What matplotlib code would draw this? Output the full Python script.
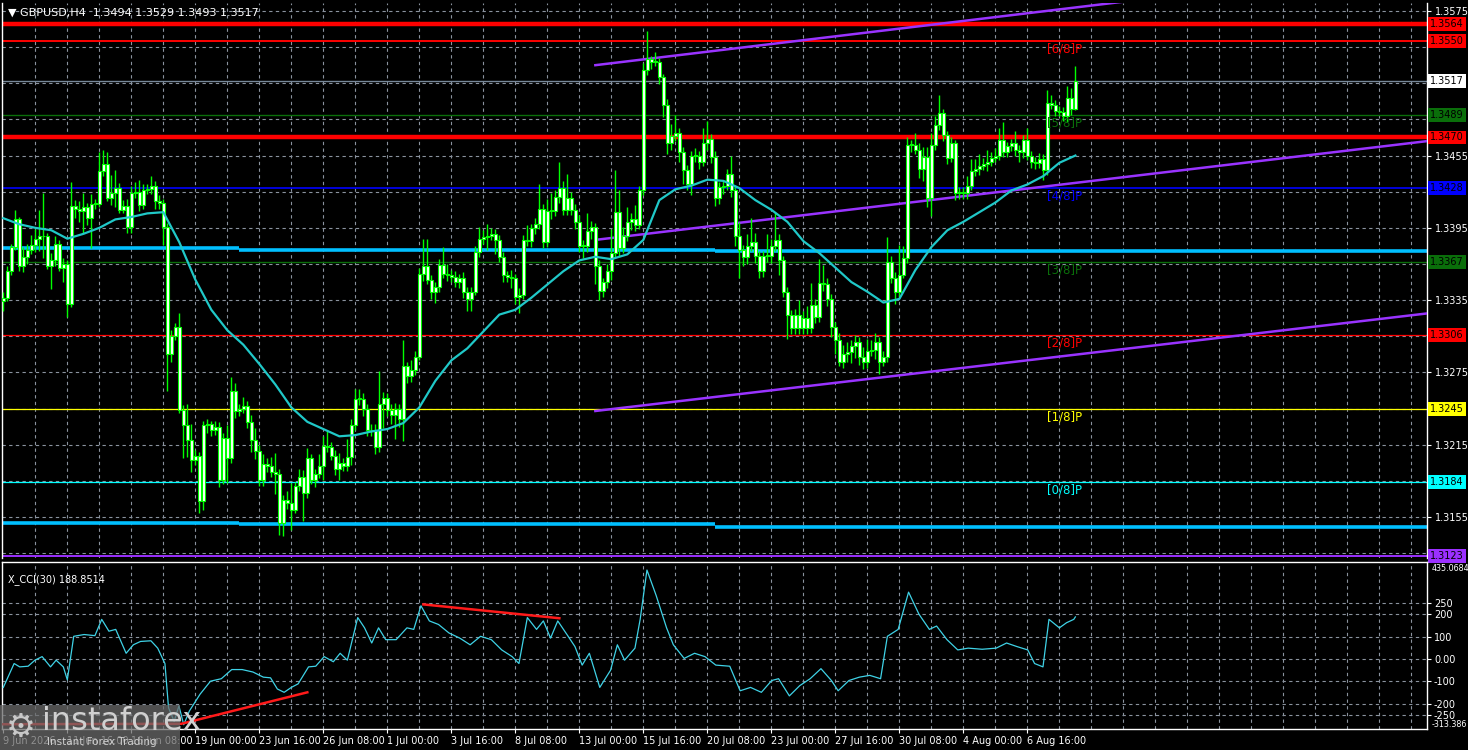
import matplotlib
matplotlib.use("Agg")
import matplotlib.pyplot as plt
from matplotlib.patches import Rectangle
import numpy as np

plt.rcParams['font.family'] = ['DejaVu Sans']

# GBPUSD H4 candles, prices in pips above 1.3000
first_open = 334
close_pips = [
    337, 359, 379, 402, 363, 371, 377, 381, 386, 388,
    388, 363, 368, 382, 362, 365, 332, 413, 411, 409,
    412, 403, 415, 415, 442, 448, 420, 424, 428, 410,
    413, 396, 424, 425, 414, 426, 427, 430, 417, 416,
    396, 290, 305, 313, 244, 231, 219, 202, 206, 168,
    231, 232, 227, 230, 186, 221, 204, 260, 243, 245,
    247, 234, 219, 210, 186, 199, 197, 192, 191, 150,
    169, 167, 161, 181, 188, 175, 204, 186, 191, 197,
    214, 213, 206, 195, 200, 197, 205, 231, 253, 253,
    245, 227, 227, 213, 249, 254, 244, 240, 245, 236,
    280, 272, 277, 288, 357, 363, 352, 342, 346, 364,
    357, 356, 354, 350, 353, 342, 336, 342, 375, 386,
    387, 388, 390, 385, 371, 356, 354, 353, 338, 339,
    385, 384, 395, 398, 411, 383, 409, 409, 421, 428,
    410, 420, 410, 400, 380, 380, 392, 396, 363, 343,
    350, 359, 374, 408, 378, 388, 400, 402, 397, 426,
    526, 535, 533, 533, 520, 497, 465, 471, 474, 458,
    443, 431, 455, 455, 450, 465, 469, 454, 420, 429,
    430, 440, 426, 388, 377, 371, 380, 383, 372, 359,
    372, 372, 380, 385, 368, 342, 323, 312, 323, 312,
    320, 312, 331, 321, 349, 348, 336, 313, 302, 284,
    290, 292, 297, 300, 288, 284, 293, 294, 300, 284,
    288, 367, 353, 342, 356, 370, 464, 464, 460, 444,
    454, 420, 464, 480, 490, 472, 453, 465, 424, 425,
    424, 430, 442, 444, 446, 448, 450, 453, 455, 468,
    458, 463, 465, 460, 458, 468, 455, 450, 449, 452,
    443, 499, 497, 492, 491, 488, 503, 494, 517,
]
up_wick = [
    5, 4, 3, 8, 2, 8, 5, 8, 8, 22,
    36, 3, 6, 6, 3, 5, 3, 20, 5, 6,
    12, 4, 8, 4, 16, 12, 10, 15, 15, 4,
    5, 6, 6, 8, 10, 5, 4, 8, 4, 5,
    3, 3, 5, 3, 11, 4, 18, 13, 5, 3,
    4, 4, 3, 5, 4, 4, 10, 11, 6, 4,
    8, 4, 6, 10, 5, 8, 5, 8, 16, 4,
    4, 8, 16, 3, 7, 6, 8, 3, 4, 10,
    8, 13, 4, 5, 8, 4, 15, 5, 8, 8,
    5, 4, 5, 5, 27, 5, 4, 5, 5, 4,
    22, 4, 8, 5, 5, 23, 23, 4, 4, 5,
    15, 8, 4, 5, 4, 5, 4, 4, 5, 10,
    6, 10, 5, 4, 4, 4, 3, 6, 4, 6,
    4, 12, 3, 5, 20, 4, 10, 15, 5, 22,
    6, 20, 5, 5, 6, 5, 15, 5, 3, 5,
    3, 6, 20, 35, 18, 8, 12, 5, 12, 4,
    6, 23, 3, 8, 3, 3, 5, 10, 15, 4,
    4, 4, 4, 6, 4, 13, 15, 4, 5, 4,
    5, 4, 15, 4, 12, 4, 10, 20, 8, 4,
    4, 18, 6, 23, 5, 4, 4, 4, 5, 12,
    6, 10, 18, 5, 20, 15, 5, 4, 4, 6,
    8, 8, 5, 6, 4, 8, 10, 8, 8, 4,
    5, 20, 5, 5, 25, 10, 6, 4, 10, 5,
    8, 8, 10, 8, 15, 4, 3, 5, 3, 4,
    4, 8, 10, 8, 10, 5, 10, 5, 6, 10,
    15, 3, 4, 10, 4, 4, 10, 4, 4, 5,
    4, 10, 6, 4, 4, 4, 10, 8, 12,
]
dn_wick = [
    8, 3, 3, 2, 4, 5, 6, 4, 6, 10,
    18, 2, 19, 5, 3, 12, 11, 3, 8, 9,
    18, 6, 25, 4, 3, 4, 3, 6, 12, 3,
    3, 5, 5, 4, 5, 3, 3, 4, 6, 5,
    15, 30, 6, 3, 3, 27, 14, 10, 4, 10,
    7, 6, 5, 4, 6, 4, 21, 4, 6, 4,
    4, 5, 10, 7, 5, 5, 5, 4, 17, 10,
    11, 5, 17, 3, 4, 23, 4, 4, 6, 4,
    11, 4, 4, 5, 9, 4, 4, 7, 4, 5,
    6, 5, 5, 6, 4, 20, 5, 8, 20, 6,
    18, 6, 5, 4, 3, 6, 4, 6, 9, 4,
    4, 5, 4, 4, 5, 5, 10, 10, 3, 4,
    4, 10, 3, 12, 4, 6, 4, 8, 6, 14,
    3, 4, 5, 5, 4, 5, 4, 7, 4, 5,
    4, 4, 4, 6, 5, 10, 5, 6, 15, 8,
    5, 5, 7, 3, 6, 4, 4, 7, 5, 3,
    4, 4, 6, 4, 6, 10, 9, 5, 4, 8,
    12, 5, 9, 5, 6, 4, 5, 5, 7, 5,
    6, 4, 5, 8, 24, 8, 6, 4, 6, 6,
    5, 5, 6, 4, 12, 4, 20, 5, 5, 5,
    5, 5, 4, 5, 4, 5, 6, 9, 12, 4,
    5, 6, 9, 10, 7, 6, 5, 4, 8, 10,
    4, 4, 4, 10, 4, 3, 4, 6, 4, 8,
    10, 8, 15, 4, 4, 5, 5, 3, 6, 5,
    5, 5, 4, 4, 5, 3, 6, 4, 3, 4,
    4, 4, 4, 5, 8, 5, 4, 5, 5, 4,
    8, 4, 3, 4, 3, 4, 5, 5, 1,
]

# moving average read every 4 bars (pips above 1.3000)
ma_bar = list(range(0, 269, 4))
ma_pips = [
    403, 398, 395, 393, 386, 390, 395, 402, 404, 407,
    408, 383, 352, 327, 310, 298, 282, 265, 246, 234,
    228, 222, 223, 226, 228, 233, 246, 268, 285, 295,
    309, 323, 327, 337, 348, 359, 368, 371, 369, 373,
    385, 418, 427, 430, 435, 434, 428, 418, 410, 400,
    384, 374, 362, 350, 342, 333, 336, 360, 379, 393,
    400, 408, 416, 426, 431, 438, 449, 455,
]

# CCI(30)
cci_bar = [
    0, 2.7, 4.1, 6.2, 7.9, 9.7, 11.8, 13.2, 15.0, 16.0,
    17.6, 20.2, 22.9, 24.6, 26.4, 28.1, 30.7, 32.5, 34.3, 36.9,
    38.6, 40.4, 41.3, 42.7, 43.9, 45.1, 46.5, 49.2, 51.8, 54.5,
    57.1, 59.7, 62.4, 65.0, 66.8, 68.5, 70.2, 72.0, 73.7, 75.0,
    76.3, 78.1, 80.2, 82.5, 84.2, 86.0, 88.6, 90.3, 92.1, 93.8,
    95.6, 98.2, 100.9, 102.6, 104.4, 106.5, 108.8, 111.4, 114.1, 116.7,
    119.3, 122.0, 124.6, 127.2, 128.9, 131.0, 133.3, 135.0, 136.8, 138.6,
    141.2, 142.9, 144.7, 146.5, 149.1, 151.8, 153.5, 155.3, 157.9, 159.2,
    160.9, 163.2, 165.8, 167.5, 170.2, 172.8, 175.4, 178.1, 181.6, 184.2,
    186.8, 189.5, 192.1, 193.8, 196.5, 199.1, 201.7, 204.4, 207.0, 208.7,
    211.4, 214.0, 216.6, 219.3, 221.0, 223.7, 226.3, 228.9, 231.5, 233.3,
    235.9, 238.6, 241.2, 244.7, 248.2, 250.8, 253.4, 256.1, 257.8, 259.9,
    261.4, 264.0, 265.8, 267.6, 268.0,
]
cci_val = [
    -127, -20, -35, -32, -5, 11, -35, -5, -35, -93,
    102, 110, 105, 178, 125, 133, 26, 64, 79, 82,
    49, -20, -218, -279, -210, -294, -233, -157, -99, -88,
    -47, -47, -58, -81, -84, -134, -149, -127, -111, -73,
    -35, -32, 11, -12, 26, -5, 186, 140, 72, 140,
    87, 87, 140, 133, 239, 171, 155, 117, 94, 64,
    102, 87, 41, 11, -20, 186, 133, 171, 94, 171,
    102, 56, -27, 26, -127, -50, 64, -5, 49, 178,
    399, 285, 140, 64, 3, 26, 11, -27, -32, -142,
    -127, -149, -96, -88, -165, -119, -88, -43, -96, -142,
    -96, -81, -73, -88, 102, 133, 300, 201, 133, 148,
    87, 41, 49, 44, 49, 72, 56, 41, -20, -35,
    178, 140, 163, 178, 189,
]

date_labels = ["9 Jun 2026", "11 Jun 16:00", "16 Jun 08:00", "19 Jun 00:00",
               "23 Jun 16:00", "26 Jun 08:00", "1 Jul 00:00", "3 Jul 16:00",
               "8 Jul 08:00", "13 Jul 00:00", "15 Jul 16:00", "20 Jul 08:00",
               "23 Jul 00:00", "27 Jul 16:00", "30 Jul 08:00", "4 Aug 00:00",
               "6 Aug 16:00"]
grid_prices = [1.3125, 1.3155, 1.3185, 1.3215, 1.3245, 1.3275, 1.3305, 1.3335,
               1.3365, 1.3395, 1.3425, 1.3455, 1.3485, 1.3515, 1.3545, 1.3575]
price_ticks = [1.3155, 1.3215, 1.3275, 1.3335, 1.3395, 1.3455, 1.3575]
cci_ticks = [250, 200, 100, 0, -100, -200, -250]
cci_tick_labels = ["250", "200", "100", "0.00", "-100", "-200", "-250"]
cci_max, cci_min = 435.0684, -313.386

levels = [1.3564, 1.3550, 1.3517, 1.3489, 1.3470, 1.3428, 1.3367, 1.3306,
          1.3245, 1.3184, 1.3123]
murray_names = ["[6/8]P", "[5/8]P", "[4/8]P", "[3/8]P", "[2/8]P", "[1/8]P", "[0/8]P"]
murray_levels = [1.3550, 1.3489, 1.3428, 1.3367, 1.3306, 1.3245, 1.3184]

sky_bars = [0, 59, 178, 356]
sky_upper = [1.3378, 1.3377, 1.3376]
sky_lower = [1.3150, 1.3149, 1.3147]

chan_bars = [148, 356]
chan_top = [1.3530, 1.3613]
chan_mid = [1.3385, 1.3467]
chan_bot = [1.3243, 1.3324]

red1_bars = [0, 44.5, 76]
red1_vals = [-292, -290, -149]
red2_bars = [105, 139]
red2_vals = [245, 183]

# ---------------------------------------------------------------
W, H = 1468, 750
fig = plt.figure(figsize=(W / 100, H / 100), dpi=100, facecolor="black")
ax = fig.add_axes([2 / W, 1 - 558 / H, 1425 / W, 555 / H], facecolor="black")
ax2 = fig.add_axes([2 / W, 1 - 729 / H, 1425 / W, 167 / H], facecolor="black")

grid_kw = dict(color="#8a929e", lw=0.8, ls=(0, (3, 3)))
xlim = (-0.33, 355.9)
fs = 7

n = len(close_pips)
x = np.arange(n)
c = 1.3 + np.array(close_pips) / 1e4
o = 1.3 + np.array([first_open] + close_pips[:-1]) / 1e4
top = np.maximum(o, c)
bot = np.minimum(o, c)
hi = top + np.array(up_wick) / 1e4
lo = bot - np.array(dn_wick) / 1e4

# level lines (color, width, box color, text color)
level_style = [("#ff0000", 3.2, "#ff0000", "black"),
               ("#ff0000", 1.4, "#ff0000", "black"),
               ("#778899", 1.0, "white", "black"),
               ("#0a6e0a", 1.0, "#0a6e0a", "black"),
               ("#ff0000", 3.2, "#ff0000", "black"),
               ("#0000ff", 1.2, "#0000ff", "black"),
               ("#0a6e0a", 1.0, "#0a6e0a", "black"),
               ("#ff0000", 0.9, "#ff0000", "black"),
               ("#ffff00", 0.9, "#ffff00", "black"),
               ("#00ffff", 0.9, "#00ffff", "black"),
               ("#9b30ff", 1.4, "#9b30ff", "black")]
murray_colors = ["#ff0000", "#0a6e0a", "#0000ff", "#0a6e0a", "#ff0000", "#ffff00", "#00ffff"]

ax.set_xlim(*xlim)
ax.set_ylim(1.31210, 1.35816)
for k in range(8, 356, 8):
    ax.axvline(k, zorder=0, **grid_kw)
for p in grid_prices:
    ax.axhline(p, zorder=0, **grid_kw)

for i in range(3):
    ax.hlines(sky_upper[i], sky_bars[i], sky_bars[i + 1], color="#00bfff", lw=2.6, zorder=2)
    ax.hlines(sky_lower[i], sky_bars[i], sky_bars[i + 1], color="#00bfff", lw=2.6, zorder=2)

for lvl, (lc, lw, bc, tc) in zip(levels, level_style):
    ax.axhline(lvl, color=lc, lw=lw, zorder=2)
    ax.text(1.0022, lvl, f"{lvl:.4f}", transform=ax.get_yaxis_transform(),
            ha="left", va="center", fontsize=fs, color=tc, zorder=10,
            bbox=dict(boxstyle="square,pad=0.2", fc=bc, ec="none"))

for name, lvl, col in zip(murray_names, murray_levels, murray_colors):
    ax.text(261, lvl - 0.00015, name, color=col, fontsize=8.5, ha="left", va="top", zorder=6)

for vals in (chan_top, chan_mid, chan_bot):
    ax.plot(chan_bars, vals, color="#9933ff", lw=1.8, zorder=3)

ax.vlines(x, lo, hi, color="#00ff00", lw=1.0, zorder=4)
ax.bar(x, np.maximum(top - bot, 0.00006), bottom=bot, width=0.7, color="white",
       edgecolor="#00ff00", linewidth=0.8, zorder=5)
ax.plot(ma_bar, 1.3 + np.array(ma_pips) / 1e4, color="#20c8c8", lw=1.6, zorder=6)

ax.yaxis.tick_right()
ax.set_yticks(price_ticks)
ax.set_yticklabels([f"{p:.4f}" for p in price_ticks])
ax.tick_params(axis="y", colors="white", labelsize=fs, length=3, pad=3)
ax.set_xticks([])
for s in ax.spines.values():
    s.set_color("white")
    s.set_linewidth(1)
ax.spines["top"].set_visible(False)
ax.spines["bottom"].set_visible(False)
ax.text(0.004, 0.992, "\u25bc GBPUSD,H4  1.3494 1.3529 1.3493 1.3517", transform=ax.transAxes,
        color="white", fontsize=8, ha="left", va="top", zorder=10)

# CCI panel
ax2.set_xlim(*xlim)
ax2.set_ylim(cci_min, cci_max)
for k in range(8, 356, 8):
    ax2.axvline(k, zorder=0, **grid_kw)
for t in cci_ticks:
    ax2.axhline(t, zorder=0, **grid_kw)
ax2.plot(cci_bar, cci_val, color="#3fd2e6", lw=0.9, zorder=3)
ax2.plot(red1_bars, red1_vals, color="#ff1a1a", lw=1.8, zorder=4)
ax2.plot(red2_bars, red2_vals, color="#ff1a1a", lw=1.8, zorder=4)
ax2.yaxis.tick_right()
ax2.set_yticks(cci_ticks)
ax2.set_yticklabels(cci_tick_labels)
ax2.tick_params(axis="y", colors="white", labelsize=fs, length=3, pad=2)
ax2.text(1.003, 0.99, f"{cci_max}", transform=ax2.transAxes, color="white", fontsize=5.8,
         ha="left", va="top")
ax2.text(1.003, 0.0, f"{cci_min}", transform=ax2.transAxes, color="white", fontsize=5.8,
         ha="left", va="bottom")
ax2.set_xticks(range(0, 257, 16))
ax2.set_xticklabels(date_labels, ha="left")
ax2.tick_params(axis="x", colors="white", labelsize=fs, length=3, pad=2)
for s in ax2.spines.values():
    s.set_color("white")
    s.set_linewidth(1)
ax2.text(0.004, 0.93, "X_CCI(30) 188.8514", transform=ax2.transAxes, color="white",
         fontsize=fs, ha="left", va="top")

# watermark
fig.add_artist(Rectangle((0, 0), 180 / W, 45 / H, transform=fig.transFigure,
                         facecolor="#6a6a6a", alpha=0.75, edgecolor="none", zorder=20))
fig.text(6 / W, 1 - 727 / H, "\u2699", color="#c8c8c8", fontsize=24, ha="left", va="center", zorder=21)
fig.text(42 / W, 1 - 722 / H, "instaforex", color="#d0d0d0", fontsize=23, ha="left", va="center", zorder=21)
fig.text(47 / W, 1 - 742 / H, "Instant Forex Trading", color="#d0d0d0", fontsize=7.5, ha="left",
         va="center", zorder=21)

fig.savefig("out.png", dpi=100, facecolor="black")
